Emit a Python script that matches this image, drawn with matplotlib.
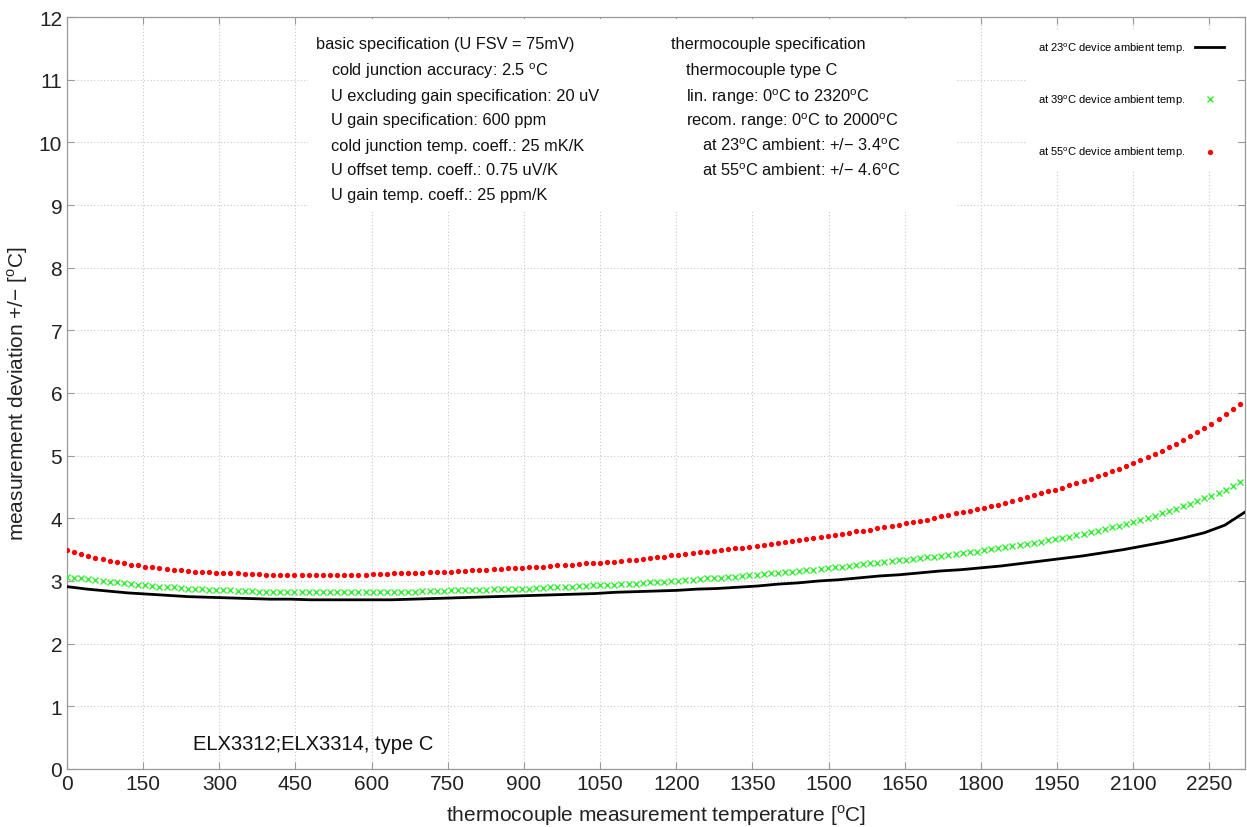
import numpy as np
import matplotlib
matplotlib.use("Agg")
import matplotlib.pyplot as plt
from matplotlib.patches import Rectangle

plt.rcParams['font.family'] = ['Liberation Sans', 'DejaVu Sans']
plt.rcParams['mathtext.fontset'] = 'custom'
plt.rcParams['mathtext.rm'] = 'Liberation Sans'

# measurement deviation [degC], sampled every 14 degC (markers)
dev_55 = [
    3.50, 3.47, 3.43, 3.40, 3.37, 3.35, 3.32, 3.30, 3.28, 3.26,
    3.25, 3.23, 3.22, 3.20, 3.19, 3.18, 3.17, 3.16, 3.15, 3.14,
    3.14, 3.13, 3.13, 3.12, 3.12, 3.11, 3.11, 3.11, 3.10, 3.10,
    3.10, 3.10, 3.10, 3.10, 3.10, 3.10, 3.10, 3.10, 3.10, 3.10,
    3.10, 3.10, 3.10, 3.11, 3.11, 3.11, 3.12, 3.12, 3.13, 3.13,
    3.13, 3.14, 3.14, 3.15, 3.15, 3.16, 3.16, 3.17, 3.18, 3.18,
    3.19, 3.19, 3.20, 3.21, 3.21, 3.22, 3.23, 3.23, 3.24, 3.25,
    3.25, 3.26, 3.27, 3.28, 3.28, 3.29, 3.30, 3.31, 3.32, 3.33,
    3.34, 3.35, 3.36, 3.38, 3.39, 3.41, 3.42, 3.43, 3.45, 3.46,
    3.47, 3.48, 3.50, 3.51, 3.52, 3.53, 3.55, 3.56, 3.58, 3.59,
    3.61, 3.62, 3.64, 3.65, 3.67, 3.68, 3.70, 3.72, 3.73, 3.75,
    3.77, 3.79, 3.80, 3.82, 3.84, 3.86, 3.88, 3.90, 3.92, 3.94,
    3.96, 3.98, 4.01, 4.03, 4.05, 4.08, 4.10, 4.12, 4.15, 4.17,
    4.20, 4.22, 4.25, 4.28, 4.31, 4.34, 4.37, 4.40, 4.43, 4.46,
    4.49, 4.53, 4.56, 4.60, 4.63, 4.67, 4.71, 4.75, 4.79, 4.84,
    4.88, 4.93, 4.98, 5.03, 5.08, 5.14, 5.19, 5.25, 5.31, 5.37,
    5.44, 5.51, 5.58, 5.66, 5.74, 5.83,
]
dev_39 = [
    3.07, 3.05, 3.04, 3.03, 3.01, 3.00, 2.99, 2.98, 2.97, 2.96,
    2.94, 2.93, 2.92, 2.91, 2.91, 2.90, 2.89, 2.88, 2.88, 2.87,
    2.86, 2.86, 2.85, 2.85, 2.84, 2.84, 2.84, 2.83, 2.83, 2.83,
    2.82, 2.82, 2.82, 2.82, 2.82, 2.82, 2.82, 2.82, 2.82, 2.82,
    2.82, 2.82, 2.82, 2.82, 2.82, 2.82, 2.83, 2.83, 2.83, 2.83,
    2.84, 2.84, 2.84, 2.84, 2.85, 2.85, 2.85, 2.86, 2.86, 2.86,
    2.87, 2.87, 2.87, 2.88, 2.88, 2.88, 2.89, 2.89, 2.90, 2.90,
    2.91, 2.91, 2.92, 2.92, 2.93, 2.93, 2.94, 2.94, 2.95, 2.96,
    2.96, 2.97, 2.98, 2.98, 2.99, 3.00, 3.00, 3.01, 3.02, 3.03,
    3.04, 3.04, 3.05, 3.06, 3.07, 3.08, 3.09, 3.10, 3.11, 3.12,
    3.13, 3.14, 3.15, 3.16, 3.17, 3.18, 3.19, 3.21, 3.22, 3.23,
    3.24, 3.25, 3.27, 3.28, 3.29, 3.30, 3.32, 3.33, 3.34, 3.35,
    3.37, 3.38, 3.39, 3.40, 3.42, 3.43, 3.45, 3.46, 3.47, 3.49,
    3.51, 3.52, 3.54, 3.56, 3.57, 3.59, 3.61, 3.63, 3.65, 3.67,
    3.69, 3.71, 3.73, 3.75, 3.78, 3.80, 3.83, 3.86, 3.88, 3.91,
    3.94, 3.97, 4.01, 4.04, 4.08, 4.12, 4.15, 4.19, 4.23, 4.27,
    4.32, 4.36, 4.41, 4.46, 4.52, 4.58,
]
temp_markers = np.arange(len(dev_55)) * 14

# 23 degC ambient curve (solid line), every 40 degC
temp_line = np.arange(0, 2321, 40)
dev_23 = [
    2.91, 2.87, 2.84, 2.81, 2.79, 2.77, 2.75, 2.74, 2.73, 2.72,
    2.71, 2.71, 2.70, 2.70, 2.70, 2.70, 2.70, 2.71, 2.72, 2.73,
    2.74, 2.75, 2.76, 2.77, 2.78, 2.79, 2.80, 2.82, 2.83, 2.84,
    2.85, 2.87, 2.88, 2.90, 2.92, 2.95, 2.97, 3.00, 3.02, 3.05,
    3.08, 3.10, 3.13, 3.16, 3.18, 3.21, 3.24, 3.28, 3.32, 3.36,
    3.40, 3.45, 3.50, 3.56, 3.62, 3.69, 3.77, 3.89, 4.10,
]

x_ticks = list(range(0, 2251, 150))
y_ticks = list(range(0, 13))

W, H = 1247, 828
fig = plt.figure(figsize=(W / 100, H / 100), dpi=100)
ax = fig.add_axes([67 / W, 58 / H, (1245 - 67) / W, (770 - 18) / H])


def fx(x):
    return x / W


def fy(y):
    return 1 - y / H


ax.plot(temp_line, dev_23, color="black", lw=2.0, zorder=3,
        solid_joinstyle="round",
        label=r"at 23$^{\mathrm{o}}$C device ambient temp.")
ax.plot(temp_markers, dev_39, ls="none", marker="x", ms=5, mew=1.0,
        color="#33ee33", zorder=3,
        label=r"at 39$^{\mathrm{o}}$C device ambient temp.")
ax.plot(temp_markers, dev_55, ls="none", marker="o", ms=3.8, mew=0,
        color="#ff0000", zorder=3,
        label=r"at 55$^{\mathrm{o}}$C device ambient temp.")

ax.set_xlim(0, 2320)
ax.set_ylim(0, 12)
ax.set_xticks(x_ticks)
ax.set_yticks(y_ticks)
ax.grid(True, color="#c8c8c8", ls=(0, (1, 2)), lw=0.8)
ax.set_axisbelow(True)
ax.tick_params(direction="in", length=5, width=0.8, colors="#999999",
               labelcolor="#222222", labelsize=15, top=True, right=True)
for s in ax.spines.values():
    s.set_color("#999999")
    s.set_linewidth(0.9)

ax.set_xlabel(r"thermocouple measurement temperature [$^{\mathrm{o}}$C]",
              fontsize=15, color="#222222", labelpad=7)
ax.set_ylabel(r"measurement deviation +/$-$ [$^{\mathrm{o}}$C]",
              fontsize=15, color="#222222", labelpad=6)

# white background behind the specification text
ax.add_patch(Rectangle((fx(308), fy(213)), fx(955) - fx(308), fy(20) - fy(213),
                       transform=fig.transFigure, facecolor="white",
                       edgecolor="none", zorder=1))

spec_left = [
    (316, 45, "basic specification (U FSV = 75mV)"),
    (331, 71, r"cold junction accuracy: 2.5 $^{\mathrm{o}}$C"),
    (331, 97, "U excluding gain specification: 20 uV"),
    (331, 121, "U gain specification: 600 ppm"),
    (331, 146, "cold junction temp. coeff.: 25 mK/K"),
    (331, 171, "U offset temp. coeff.: 0.75 uV/K"),
    (331, 196, "U gain temp. coeff.: 25 ppm/K"),
]
spec_right = [
    (671, 45, "thermocouple specification"),
    (686, 71, "thermocouple type C"),
    (686, 97, r"lin. range: 0$^{\mathrm{o}}$C to 2320$^{\mathrm{o}}$C"),
    (686, 121, r"recom. range: 0$^{\mathrm{o}}$C to 2000$^{\mathrm{o}}$C"),
    (702, 146, r"at 23$^{\mathrm{o}}$C ambient: +/$-$ 3.4$^{\mathrm{o}}$C"),
    (702, 171, r"at 55$^{\mathrm{o}}$C ambient: +/$-$ 4.6$^{\mathrm{o}}$C"),
]
for x, y, s in spec_left + spec_right:
    fig.text(fx(x), fy(y), s, fontsize=11.8, va="center", ha="left",
             color="#111111", zorder=5)

fig.text(fx(193), fy(745), "ELX3312;ELX3314, type C", fontsize=14.5,
         va="center", ha="left", color="#111111")

leg = ax.legend(loc="upper right", bbox_to_anchor=(fx(1241), fy(25)),
                bbox_transform=fig.transFigure, fontsize=8, markerfirst=False,
                numpoints=1, handlelength=2.6, handletextpad=0.9,
                labelspacing=3.4, borderpad=1.0, frameon=True, fancybox=False)
leg.get_frame().set_facecolor("white")
leg.get_frame().set_edgecolor("none")
leg.get_frame().set_alpha(1.0)

fig.savefig("out.png", dpi=100)
